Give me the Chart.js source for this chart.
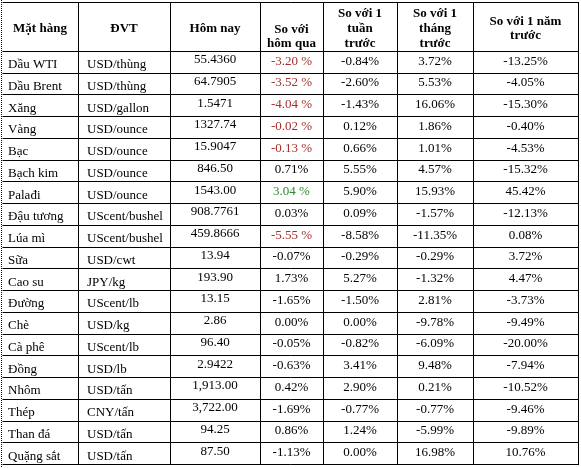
<!DOCTYPE html>
<html>
<head>
<meta charset="utf-8">
<script src="https://cdn.jsdelivr.net/npm/chart.js@4.4.1/dist/chart.umd.min.js"></script>
<style>
  html, body { margin: 0; padding: 0; background: #fff; }
  #wrap { width: 581px; height: 468px; position: relative; }
</style>
</head>
<body>
<div id="wrap"><canvas id="priceTable"></canvas></div>
<script>
// table content
const headers = [
    ["Mặt hàng"],
    ["ĐVT"],
    ["Hôm nay"],
    ["So với", "hôm qua"],
    ["So với 1", "tuần", "trước"],
    ["So với 1", "tháng", "trước"],
    ["So với 1 năm", "trước"]
];
const items = ["Dầu WTI", "Dầu Brent", "Xăng", "Vàng", "Bạc", "Bạch kim", "Palađi", "Đậu tương", "Lúa mì", "Sữa",
    "Cao su", "Đường", "Chè", "Cà phê", "Đồng", "Nhôm", "Thép", "Than đá", "Quặng sắt"];
const units = ["USD/thùng", "USD/thùng", "USD/gallon", "USD/ounce", "USD/ounce", "USD/ounce", "USD/ounce",
    "UScent/bushel", "UScent/bushel", "USD/cwt", "JPY/kg", "UScent/lb", "USD/kg", "UScent/lb", "USD/lb",
    "USD/tấn", "CNY/tấn", "USD/tấn", "USD/tấn"];
const today = ["55.4360", "64.7905", "1.5471", "1327.74", "15.9047", "846.50", "1543.00", "908.7761", "459.8666",
    "13.94", "193.90", "13.15", "2.86", "96.40", "2.9422", "1,913.00", "3,722.00", "94.25", "87.50"];
const vsYesterday = ["-3.20 %", "-3.52 %", "-4.04 %", "-0.02 %", "-0.13 %", "0.71%", "3.04 %", "0.03%", "-5.55 %",
    "-0.07%", "1.73%", "-1.65%", "0.00%", "-0.05%", "-0.63%", "0.42%", "-1.69%", "0.86%", "-1.13%"];
const vsWeek = ["-0.84%", "-2.60%", "-1.43%", "0.12%", "0.66%", "5.55%", "5.90%", "0.09%", "-8.58%", "-0.29%",
    "5.27%", "-1.50%", "0.00%", "-0.82%", "3.41%", "2.90%", "-0.77%", "1.24%", "0.00%"];
const vsMonth = ["3.72%", "5.53%", "16.06%", "1.86%", "1.01%", "4.57%", "15.93%", "-1.57%", "-11.35%", "-0.29%",
    "-1.32%", "2.81%", "-9.78%", "-6.09%", "9.48%", "0.21%", "-0.77%", "-5.99%", "16.98%"];
const vsYear = ["-13.25%", "-4.05%", "-15.30%", "-0.40%", "-4.53%", "-15.32%", "45.42%", "-12.13%", "0.08%",
    "3.72%", "4.47%", "-3.73%", "-9.49%", "-20.00%", "-7.94%", "-10.52%", "-9.46%", "-9.89%", "10.76%"];

// layout
const colWidths = [76, 92, 90, 63, 74, 76, 105];
const colAlign = ["left", "left", "center", "center", "center", "center", "center"];
const colPadLeft = [6, 9, 0, 0, 0, 0, 0];
const baseOffset = [4.5, 4.5, 9.5, 8, 8, 8, 8]; // baseline distance from cell bottom
const headerValign = ["middle", "middle", "middle", "bottom", "middle", "middle", "middle"];
const headerUnits = 2.254; // header height measured in body rows
const lineHeight = 14.7;
const RED = "#a3302c";
const GREEN = "#2d8a2d";
const FONT = '"Liberation Serif", "Times New Roman", serif';

const columns = [items, units, today, vsYesterday, vsWeek, vsMonth, vsYear];
const colEdges = [0];
colWidths.forEach(w => colEdges.push(colEdges[colEdges.length - 1] + w));

function cellColor(col, text) {
    // the daily change column marks big moves with a spaced percent sign
    if (col === 3 && text.includes(" %")) return text.startsWith("-") ? RED : GREEN;
    return "#000";
}

const tablePlugin = {
    id: "tablePlugin",
    afterDraw(chart) {
        const ctx = chart.ctx;
        const xs = chart.scales.x;
        const ys = chart.scales.y;
        const px = v => Math.round(xs.getPixelForValue(v)) + 0.5;
        const py = v => Math.round(ys.getPixelForValue(v)) + 0.5;
        const nRows = items.length;
        const yTop = 0, yHead = headerUnits, yEnd = headerUnits + nRows;

        ctx.save();
        // white background
        ctx.fillStyle = "#fff";
        ctx.fillRect(0, 0, chart.width, chart.height);

        // grid
        ctx.strokeStyle = "#000";
        ctx.lineWidth = 1;
        ctx.beginPath();
        for (let r = 0; r <= nRows; r++) {
            const y = py(yHead + r);
            ctx.moveTo(px(0), y);
            ctx.lineTo(px(colEdges[colEdges.length - 1]) + 0.5, y);
        }
        ctx.moveTo(px(0), py(yTop));
        ctx.lineTo(px(colEdges[colEdges.length - 1]) + 0.5, py(yTop));
        for (let c = 1; c < colEdges.length; c++) {
            const x = px(colEdges[c]);
            ctx.moveTo(x, py(yTop));
            ctx.lineTo(x, py(yEnd));
        }
        ctx.stroke();

        // dotted page edge on the left
        ctx.setLineDash([1, 1]);
        ctx.beginPath();
        ctx.moveTo(px(0) - 1, 0);
        ctx.lineTo(px(0) - 1, chart.height);
        ctx.stroke();
        ctx.setLineDash([]);

        // header text
        ctx.font = "bold 13px " + FONT;
        ctx.textAlign = "center";
        ctx.textBaseline = "alphabetic";
        ctx.fillStyle = "#000";
        headers.forEach((lines, c) => {
            const cx = (xs.getPixelForValue(colEdges[c]) + xs.getPixelForValue(colEdges[c + 1])) / 2;
            const top = ys.getPixelForValue(yTop);
            const bottom = ys.getPixelForValue(yHead);
            const n = lines.length;
            lines.forEach((line, i) => {
                let y;
                if (headerValign[c] === "bottom") {
                    y = bottom - 3.5 - (n - 1 - i) * lineHeight;
                } else {
                    y = (top + bottom) / 2 + 5.5 + (i - (n - 1) / 2) * lineHeight;
                }
                ctx.fillText(line, cx, y);
            });
        });

        // body text
        ctx.font = "13px " + FONT;
        columns.forEach((values, c) => {
            const left = xs.getPixelForValue(colEdges[c]);
            const right = xs.getPixelForValue(colEdges[c + 1]);
            ctx.textAlign = colAlign[c];
            const x = colAlign[c] === "left" ? left + colPadLeft[c] : (left + right) / 2;
            values.forEach((text, r) => {
                const bottom = ys.getPixelForValue(yHead + r + 1);
                ctx.fillStyle = cellColor(c, text);
                ctx.fillText(text, x, bottom - baseOffset[c]);
            });
        });
        ctx.restore();
    }
};

new Chart(document.getElementById("priceTable"), {
    type: "scatter",
    data: { datasets: [{ data: [] }] },
    options: {
        responsive: true,
        maintainAspectRatio: false,
        animation: false,
        events: [],
        layout: { padding: { left: 2, right: 3, top: 2, bottom: 4 } },
        plugins: { legend: { display: false }, tooltip: { enabled: false } },
        scales: {
            x: { type: "linear", display: false, min: 0, max: colEdges[colEdges.length - 1] },
            y: { type: "linear", display: false, reverse: true, min: 0, max: headerUnits + items.length }
        }
    },
    plugins: [tablePlugin]
});
</script>
</body>
</html>
